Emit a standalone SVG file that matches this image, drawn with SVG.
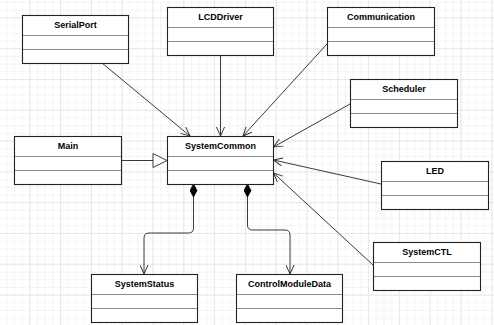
<svg xmlns="http://www.w3.org/2000/svg" width="494" height="325" viewBox="0 0 494 325">
  <defs>
    <pattern id="minor" x="-1.5" y="-13.4" width="7.7" height="7.7" patternUnits="userSpaceOnUse">
      <path d="M0,0.5 H7.7 M0.5,0 V7.7" fill="none" stroke="#f4f4f4" stroke-width="1"/>
    </pattern>
    <pattern id="major" x="-1.5" y="-13.4" width="30.8" height="30.8" patternUnits="userSpaceOnUse">
      <path d="M0,0.5 H30.8 M0.5,0 V30.8" fill="none" stroke="#e8e8e8" stroke-width="1"/>
    </pattern>
    <marker id="open" viewBox="0 0 10 10" refX="10" refY="5" markerWidth="10" markerHeight="9" markerUnits="userSpaceOnUse" orient="auto">
      <path d="M0,0.5 L10,5 L0,9.5" fill="none" stroke="#333" stroke-width="1.1"/>
    </marker>
    <marker id="diamond" viewBox="0 0 13 8" refX="0" refY="4" markerWidth="13" markerHeight="8" markerUnits="userSpaceOnUse" orient="auto">
      <path d="M0,4 L6.5,0.5 L13,4 L6.5,7.5 Z" fill="#000" stroke="#000" stroke-width="0.8"/>
    </marker>
  </defs>
  <style>
    .box { fill: #fff; stroke: #222; stroke-width: 1.1; }
    .div { stroke: #8a8a8a; stroke-width: 1; }
    .lbl { font-family: "Liberation Sans", Arial, sans-serif; font-size: 9px; font-weight: bold; fill: #000; text-anchor: middle; }
    .conn { fill: none; stroke: #3a3a3a; stroke-width: 1; }
  </style>
  <rect width="494" height="325" fill="#fff"/>
  <rect width="494" height="325" fill="url(#minor)"/>
  <rect width="494" height="325" fill="url(#major)"/>

  <g id="connectors">
    <path class="conn" d="M102,63 L190,136" marker-end="url(#open)"/>
    <path class="conn" d="M220.5,55 L220.5,136" marker-end="url(#open)"/>
    <path class="conn" d="M327,44 L243,136" marker-end="url(#open)"/>
    <path class="conn" d="M350,104 L273.5,147" marker-end="url(#open)"/>
    <path class="conn" d="M381,184 L273.5,160" marker-end="url(#open)"/>
    <path class="conn" d="M373,265 L273.5,173" marker-end="url(#open)"/>
    <path class="conn" d="M121,160.5 L153,160.5"/>
    <polygon points="153,153.5 167,160.5 153,167.5" fill="#fff" stroke="#3a3a3a" stroke-width="1"/>
    <path class="conn" d="M193.5,184 V228 Q193.5,233 188.5,233 H149 Q144,233 144,238 V274" marker-start="url(#diamond)" marker-end="url(#open)"/>
    <path class="conn" d="M247.5,184 V225 Q247.5,230 252.5,230 H285 Q290,230 290,235 V274" marker-start="url(#diamond)" marker-end="url(#open)"/>
  </g>

  <g id="SerialPort">
    <rect class="box" x="22.5" y="15.5" width="106" height="48"/>
    <path class="div" d="M23,35.5 H128 M23,49.5 H128"/>
    <text class="lbl" x="75.5" y="27.5">SerialPort</text>
  </g>
  <g id="LCDDriver">
    <rect class="box" x="167.5" y="7.5" width="106" height="48"/>
    <path class="div" d="M168,27.5 H273 M168,41.5 H273"/>
    <text class="lbl" x="220.5" y="19.5">LCDDriver</text>
  </g>
  <g id="Communication">
    <rect class="box" x="327.5" y="7.5" width="107" height="48"/>
    <path class="div" d="M328,27.5 H434 M328,41.5 H434"/>
    <text class="lbl" x="381" y="19.5">Communication</text>
  </g>
  <g id="Scheduler">
    <rect class="box" x="350.5" y="79.5" width="107" height="48"/>
    <path class="div" d="M351,99.5 H457 M351,113.5 H457"/>
    <text class="lbl" x="404" y="91.5">Scheduler</text>
  </g>
  <g id="Main">
    <rect class="box" x="14.5" y="136.5" width="107" height="48"/>
    <path class="div" d="M15,156.5 H121 M15,170.5 H121"/>
    <text class="lbl" x="68" y="148.5">Main</text>
  </g>
  <g id="SystemCommon">
    <rect class="box" x="167.5" y="136.5" width="106" height="48"/>
    <path class="div" d="M168,156.5 H273 M168,170.5 H273"/>
    <text class="lbl" x="220.5" y="148.5">SystemCommon</text>
  </g>
  <g id="LED">
    <rect class="box" x="381.5" y="161.5" width="107" height="48"/>
    <path class="div" d="M382,181.5 H488 M382,195.5 H488"/>
    <text class="lbl" x="435" y="173.5">LED</text>
  </g>
  <g id="SystemCTL">
    <rect class="box" x="373.5" y="242.5" width="107" height="48"/>
    <path class="div" d="M374,262.5 H480 M374,276.5 H480"/>
    <text class="lbl" x="427" y="254.5">SystemCTL</text>
  </g>
  <g id="SystemStatus">
    <rect class="box" x="91.5" y="274.5" width="106" height="48"/>
    <path class="div" d="M92,294.5 H197 M92,308.5 H197"/>
    <text class="lbl" x="144.5" y="286.5">SystemStatus</text>
  </g>
  <g id="ControlModuleData">
    <rect class="box" x="236.5" y="274.5" width="106" height="48"/>
    <path class="div" d="M237,294.5 H342 M237,308.5 H342"/>
    <text class="lbl" x="289.5" y="286.5">ControlModuleData</text>
  </g>
</svg>
